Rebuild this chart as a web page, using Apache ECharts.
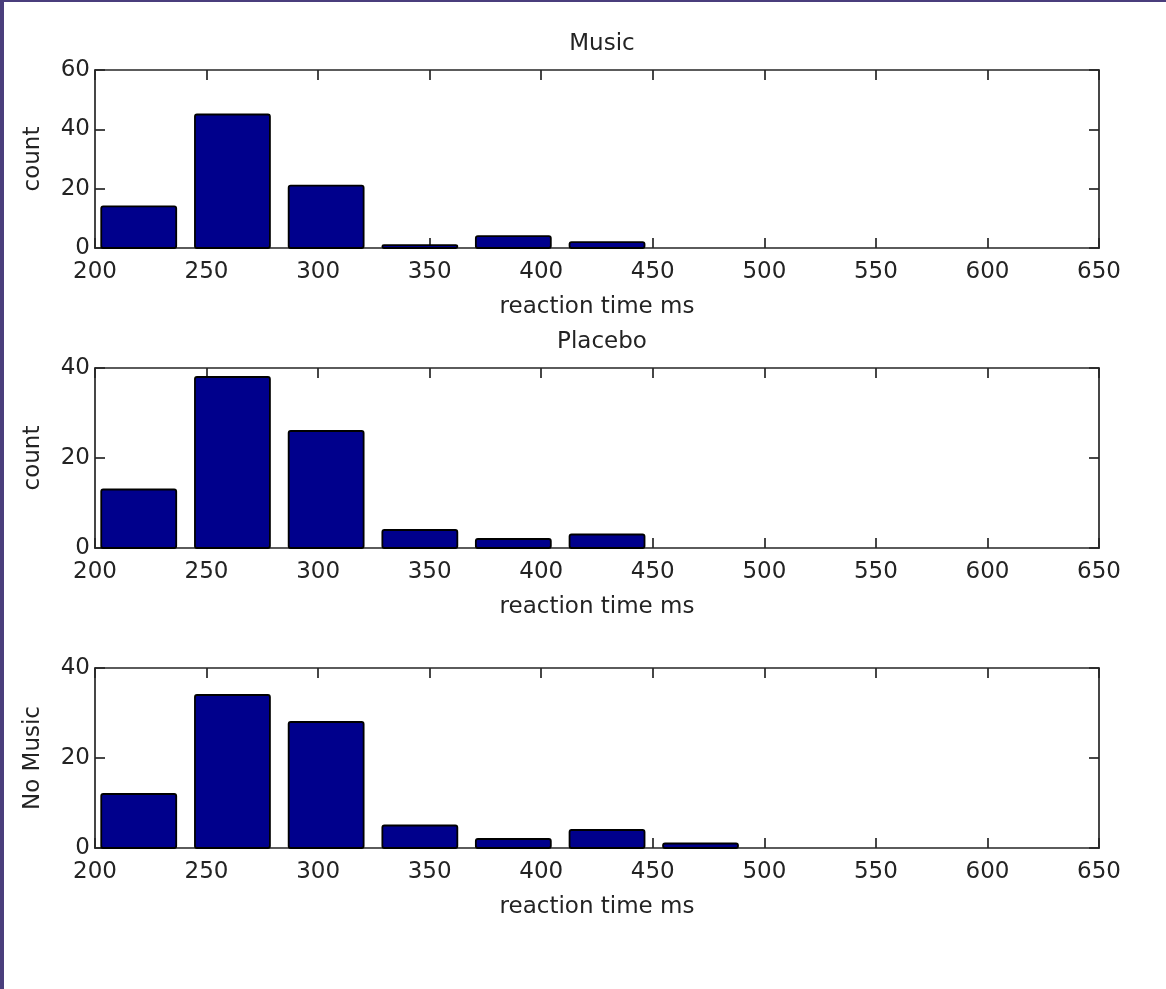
<!DOCTYPE html>
<html>
<head>
<meta charset="utf-8">
<title>Reaction time histograms</title>
<script src="https://cdn.jsdelivr.net/npm/echarts@6/dist/echarts.min.js"></script>
<style>
  html, body { margin: 0; padding: 0; background: #ffffff; }
  #chart { position: absolute; left: 0; top: 0; width: 1166px; height: 989px; }
  .edge { position: absolute; background: #4a3e7c; z-index: 5; }
</style>
</head>
<body>
<div id="chart"></div>
<div class="edge" style="left:0;top:0;width:4px;height:989px;"></div>
<div class="edge" style="left:0;top:0;width:1166px;height:2px;"></div>
<script>
// Histogram bin centres (ms) shared by all three conditions
const binCenters = [219.6, 261.6, 303.6, 345.6, 387.5, 429.5, 471.4, 513.4, 555.3, 597.3];

// Counts per bin for each condition
const musicCounts   = [14, 45, 21, 1, 4, 2, 0, 0, 0, 0];
const placeboCounts = [13, 38, 26, 4, 2, 3, 0, 0, 0, 0];
const noMusicCounts = [12, 34, 28, 5, 2, 4, 1, 0, 0, 0];

// Axis tick values
const xTicks = [200, 250, 300, 350, 400, 450, 500, 550, 600, 650];
const yTicksMusic = [0, 20, 40, 60];
const yTicksOther = [0, 20, 40];

// Panel texts
const panelTitles = ['Music', 'Placebo', ''];
const panelYNames = ['count', 'count', 'No Music'];
const xAxisName = 'reaction time ms';

const panels = [
  { counts: musicCounts,   yTicks: yTicksMusic, top: 70,  height: 178 },
  { counts: placeboCounts, yTicks: yTicksOther, top: 368, height: 180 },
  { counts: noMusicCounts, yTicks: yTicksOther, top: 668, height: 180 }
];

const FONT = 'DejaVu Sans';
const FS = 23;
const TEXT = '#232323';
const LINE = '#262626';
const BAR_FILL = '#00008c';
const BAR_EDGE = '#000000';
const BIN_STEP = binCenters[1] - binCenters[0];
const BAR_HALF = BIN_STEP * 0.8 / 2;

const gridLeft = 95, gridWidth = 1004;

const grids = [], xAxes = [], yAxes = [], series = [], titles = [];

panels.forEach((p, i) => {
  grids.push({ left: gridLeft, width: gridWidth, top: p.top, height: p.height, containLabel: false });

  const xMin = xTicks[0], xMax = xTicks[xTicks.length - 1], xStep = xTicks[1] - xTicks[0];
  const yMin = p.yTicks[0], yMax = p.yTicks[p.yTicks.length - 1], yStep = p.yTicks[1] - p.yTicks[0];

  const axisLine = { show: true, onZero: false, lineStyle: { color: LINE, width: 1.7 } };
  const tickIn = { show: true, inside: true, length: 10, lineStyle: { color: LINE, width: 1.7 } };

  // bottom x axis with labels and name
  xAxes.push({
    type: 'value', gridIndex: i, position: 'bottom',
    min: xMin, max: xMax, interval: xStep,
    axisLine: axisLine, axisTick: tickIn, splitLine: { show: false },
    axisLabel: { show: true, margin: 13, color: TEXT, fontFamily: FONT, fontSize: FS },
    name: xAxisName, nameLocation: 'middle', nameGap: 48,
    nameTextStyle: { color: TEXT, fontFamily: FONT, fontSize: FS }
  });
  // top x axis: frame edge with mirrored ticks
  xAxes.push({
    type: 'value', gridIndex: i, position: 'top',
    min: xMin, max: xMax, interval: xStep,
    axisLine: axisLine, axisTick: tickIn, splitLine: { show: false },
    axisLabel: { show: false }
  });
  // left y axis with labels and name
  yAxes.push({
    type: 'value', gridIndex: i, position: 'left',
    min: yMin, max: yMax, interval: yStep,
    axisLine: axisLine, axisTick: tickIn, splitLine: { show: false },
    axisLabel: { show: true, margin: 5, color: TEXT, fontFamily: FONT, fontSize: FS },
    name: panelYNames[i], nameLocation: 'middle', nameGap: 50, nameRotate: 90,
    nameTextStyle: { color: TEXT, fontFamily: FONT, fontSize: FS }
  });
  // right y axis: frame edge with mirrored ticks
  yAxes.push({
    type: 'value', gridIndex: i, position: 'right',
    min: yMin, max: yMax, interval: yStep,
    axisLine: axisLine, axisTick: tickIn, splitLine: { show: false },
    axisLabel: { show: false }
  });

  series.push({
    type: 'custom',
    xAxisIndex: 2 * i,
    yAxisIndex: 2 * i,
    data: binCenters.map((c, k) => [c, p.counts[k]]),
    renderItem: function (params, api) {
      const c = api.value(0), v = api.value(1);
      if (!(v > 0)) return null;
      const a = api.coord([c - BAR_HALF, v]);
      const b = api.coord([c + BAR_HALF, 0]);
      return {
        type: 'rect',
        shape: { x: a[0], y: a[1], width: b[0] - a[0], height: b[1] - a[1], r: 2 },
        style: { fill: BAR_FILL, stroke: BAR_EDGE, lineWidth: 1.8 }
      };
    },
    z: 1
  });

  if (panelTitles[i]) {
    titles.push({
      text: panelTitles[i],
      left: gridLeft + gridWidth / 2, top: p.top - 42, textAlign: 'center',
      textStyle: { color: TEXT, fontFamily: FONT, fontSize: FS, fontWeight: 'normal' }
    });
  }
});

const chart = echarts.init(document.getElementById('chart'), null, { renderer: 'canvas' });
chart.setOption({
  backgroundColor: '#ffffff',
  animation: false,
  title: titles,
  grid: grids,
  xAxis: xAxes,
  yAxis: yAxes,
  series: series
});
</script>
</body>
</html>
